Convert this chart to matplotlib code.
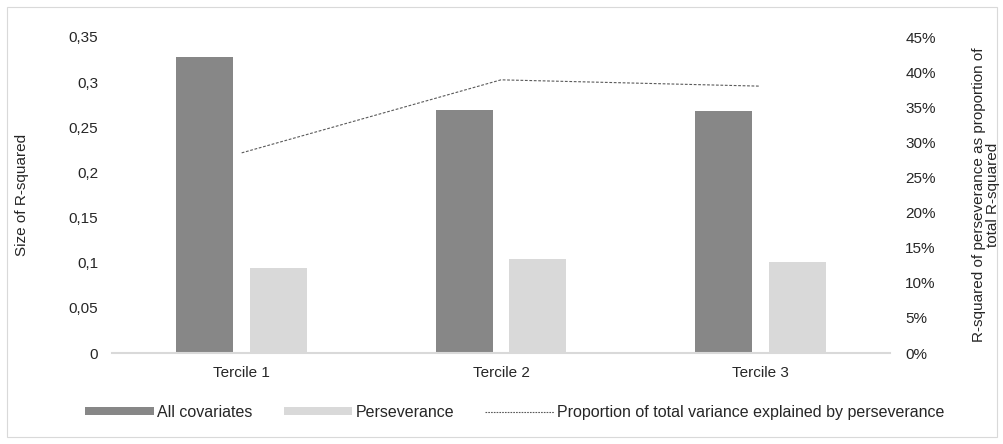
import numpy as np
import matplotlib
matplotlib.use("Agg")
import matplotlib.pyplot as plt
from matplotlib.patches import Patch, Rectangle
from matplotlib.lines import Line2D
from matplotlib.ticker import FuncFormatter, MultipleLocator

plt.rcParams['font.family'] = ['Liberation Sans', 'DejaVu Sans']

# R-squared per tercile
terciles = ['Tercile 1', 'Tercile 2', 'Tercile 3']
all_covariates = [0.328, 0.269, 0.268]
perseverance = [0.094, 0.104, 0.101]
# share of total R-squared explained by perseverance (%)
proportion = [28.5, 38.9, 38.0]

dark = '#878787'
light = '#d9d9d9'
axis_grey = '#d9d9d9'
text_col = '#262626'
fs = 11

fig = plt.figure(figsize=(10.04, 4.44), dpi=100)
fig.patches.append(Rectangle((7 / 1004, 7 / 444), 990 / 1004, 430 / 444,
                             transform=fig.transFigure, fill=False,
                             edgecolor=axis_grey, linewidth=0.8))

ax = fig.add_axes([112 / 1004, 1 - 353 / 444, 778 / 1004, 316 / 444])
x = np.arange(len(terciles))
w = 0.22
off = 0.142
ax.bar(x - off, all_covariates, width=w, color=dark, zorder=2)
ax.bar(x + off, perseverance, width=w, color=light, zorder=2)

ax.set_xlim(-0.5, 2.5)
ax.set_ylim(0, 0.35)
ax.yaxis.set_major_locator(MultipleLocator(0.05))
ax.yaxis.set_major_formatter(FuncFormatter(
    lambda v, p: '0' if abs(v) < 1e-9 else ('%g' % round(v, 2)).replace('.', ',')))
ax.set_xticks(x)
ax.set_xticklabels(terciles)
ax.tick_params(axis='both', length=0, labelsize=fs, colors=text_col)
ax.tick_params(axis='x', pad=9)
ax.tick_params(axis='y', pad=10)
for s in ['top', 'right', 'left']:
    ax.spines[s].set_visible(False)
ax.spines['bottom'].set_color(axis_grey)
ax.spines['bottom'].set_linewidth(1.5)

ax2 = ax.twinx()
ax2.plot(x, proportion, color='#5a5a5a', linewidth=0.8, linestyle=(0, (2.5, 1.5)))
ax2.set_ylim(0, 45)
ax2.yaxis.set_major_locator(MultipleLocator(5))
ax2.yaxis.set_major_formatter(FuncFormatter(lambda v, p: '%d%%' % round(v)))
ax2.tick_params(axis='y', length=0, labelsize=fs, colors=text_col, pad=11)
for s in ['top', 'right', 'left', 'bottom']:
    ax2.spines[s].set_visible(False)

# axis titles
fig.text(22 / 1004, 1 - 195 / 444, 'Size of R-squared', rotation=90,
         ha='center', va='center', fontsize=fs, color=text_col)
fig.text(986 / 1004, 1 - 195 / 444,
         'R-squared of perseverance as proportion of\ntotal R-squared',
         rotation=90, ha='center', va='center', multialignment='center',
         fontsize=fs, color=text_col, linespacing=0.95)

handles = [
    Patch(facecolor=dark, edgecolor='none'),
    Patch(facecolor=light, edgecolor='none'),
    Line2D([], [], color='#5a5a5a', linewidth=0.8, linestyle=(0, (1.5, 1))),
]
labels = ['All covariates', 'Perseverance',
          'Proportion of total variance explained by perseverance']
fig.legend(handles, labels, loc='center', bbox_to_anchor=(515 / 1004, 1 - 412 / 444),
           ncol=3, frameon=False, fontsize=11.5, handlelength=4.3, handleheight=0.45,
           handletextpad=0.2, columnspacing=1.95, labelcolor=text_col)

fig.savefig('out.png', dpi=100)
